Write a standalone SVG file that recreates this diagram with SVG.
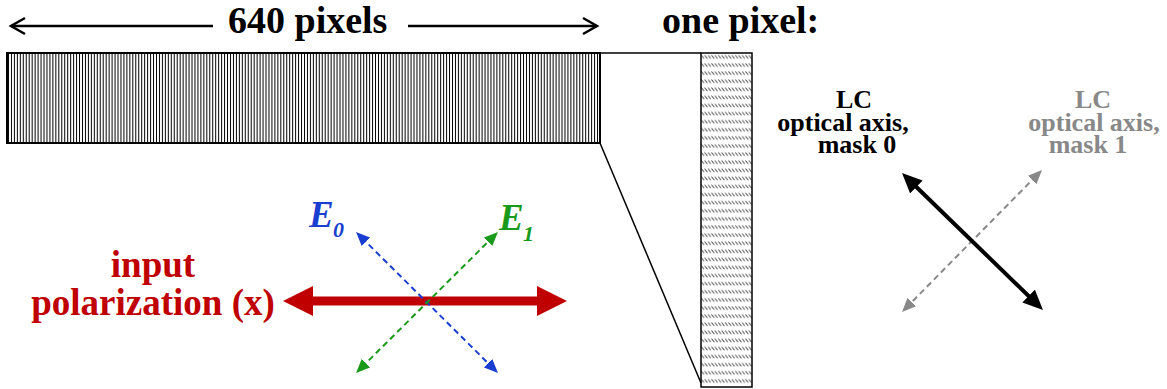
<svg xmlns="http://www.w3.org/2000/svg" width="1167" height="389" viewBox="0 0 1167 389">
<style>
.t{font-family:"Liberation Serif","Times New Roman",serif;font-weight:bold}
.big{font-size:38px;fill:#000}
.red{font-size:37px;fill:#c00000}
.lc{font-size:26px;text-anchor:middle}
.e{font-family:"Liberation Serif","Times New Roman",serif;font-weight:bold;font-style:italic}
.ta{fill:none;stroke:#000;stroke-width:2.5}
</style>
<defs>
<pattern id="vlines" patternUnits="userSpaceOnUse" x="7" y="0" width="2.96" height="10">
<line x1="1.5" y1="0" x2="1.5" y2="10" stroke="#000" stroke-width="1"/>
</pattern>
<pattern id="dhatch" patternUnits="userSpaceOnUse" x="701" y="53" width="3.4" height="8.1">
<line x1="0.3" y1="2.2" x2="3.0" y2="5.6" stroke="#333" stroke-width="0.9"/>
</pattern>
<marker id="mBlue" markerUnits="userSpaceOnUse" markerWidth="14" markerHeight="12" refX="6" refY="6" orient="auto-start-reverse">
<path d="M0,0 L14,6 L0,12 z" fill="#1a3fd0"/>
</marker>
<marker id="mGreen" markerUnits="userSpaceOnUse" markerWidth="14" markerHeight="12" refX="6" refY="6" orient="auto-start-reverse">
<path d="M0,0 L14,6 L0,12 z" fill="#1a9a1a"/>
</marker>
<marker id="mGray" markerUnits="userSpaceOnUse" markerWidth="14" markerHeight="12" refX="6" refY="6" orient="auto-start-reverse">
<path d="M0,0 L14,6 L0,12 z" fill="#888"/>
</marker>
<marker id="mBlack" markerUnits="userSpaceOnUse" markerWidth="20" markerHeight="18" refX="10" refY="9" orient="auto-start-reverse">
<path d="M0,0 L20,9 L0,18 z" fill="#000"/>
</marker>
</defs>

<g id="title">
<line class="ta" x1="11" y1="26" x2="213" y2="26"/>
<polyline class="ta" points="25,18 11,26 25,34"/>
<text class="t big" x="228" y="33">640 pixels</text>
<line class="ta" x1="408" y1="26" x2="597" y2="26"/>
<polyline class="ta" points="583,18 597,26 583,34"/>
</g>

<g id="one-pixel-label">
<text class="t big" x="662" y="33">one pixel:</text>
</g>

<g id="panel">
<rect x="7" y="53" width="593" height="90" fill="url(#vlines)" stroke="#000" stroke-width="2"/>
</g>

<g id="pixel">
<rect x="701" y="53" width="51" height="334" fill="url(#dhatch)" stroke="#000" stroke-width="1.5"/>
</g>

<g id="connectors">
<line x1="600" y1="53" x2="701" y2="53" stroke="#000" stroke-width="1.5"/>
<line x1="600" y1="143" x2="701" y2="383" stroke="#000" stroke-width="1.5"/>
</g>

<g id="input-polarization">
<text class="t red" x="153" y="277" text-anchor="middle">input</text>
<text class="t red" x="153" y="315" text-anchor="middle">polarization (x)</text>
<line x1="310" y1="301" x2="540" y2="301" stroke="#c00000" stroke-width="9"/>
<polygon points="283,301 313,286 313,316" fill="#c00000"/>
<polygon points="567,301 537,286 537,316" fill="#c00000"/>
</g>

<g id="E0">
<line x1="361.7" y1="237.6" x2="492.3" y2="367.4" stroke="#1a3fd0" stroke-width="2" stroke-dasharray="6,4" marker-start="url(#mBlue)" marker-end="url(#mBlue)"/>
<text class="e" x="309" y="227" font-size="37" fill="#1a3fd0">E</text>
<text class="e" x="333" y="237" font-size="22" fill="#1a3fd0">0</text>
</g>

<g id="E1">
<line x1="361.7" y1="367.4" x2="492.3" y2="237.6" stroke="#1a9a1a" stroke-width="2" stroke-dasharray="6,4" marker-start="url(#mGreen)" marker-end="url(#mGreen)"/>
<text class="e" x="499" y="230" font-size="37" fill="#1a9a1a">E</text>
<text class="e" x="523" y="241" font-size="22" fill="#1a9a1a">1</text>
</g>

<g id="mask1">
<text class="t lc" x="1093" y="108" fill="#888">LC</text>
<text class="t lc" x="1094" y="131" fill="#888">optical axis,</text>
<text class="t lc" x="1088" y="153" fill="#888">mask 1</text>
<line x1="1036.4" y1="175.7" x2="907.6" y2="306.3" stroke="#888" stroke-width="2" stroke-dasharray="6,4" marker-start="url(#mGray)" marker-end="url(#mGray)"/>
</g>

<g id="mask0">
<text class="t lc" x="854" y="108" fill="#000">LC</text>
<text class="t lc" x="843" y="131" fill="#000">optical axis,</text>
<text class="t lc" x="857" y="153" fill="#000">mask 0</text>
<line x1="909.2" y1="180" x2="1035.8" y2="303" stroke="#000" stroke-width="4" marker-start="url(#mBlack)" marker-end="url(#mBlack)"/>
</g>
</svg>
